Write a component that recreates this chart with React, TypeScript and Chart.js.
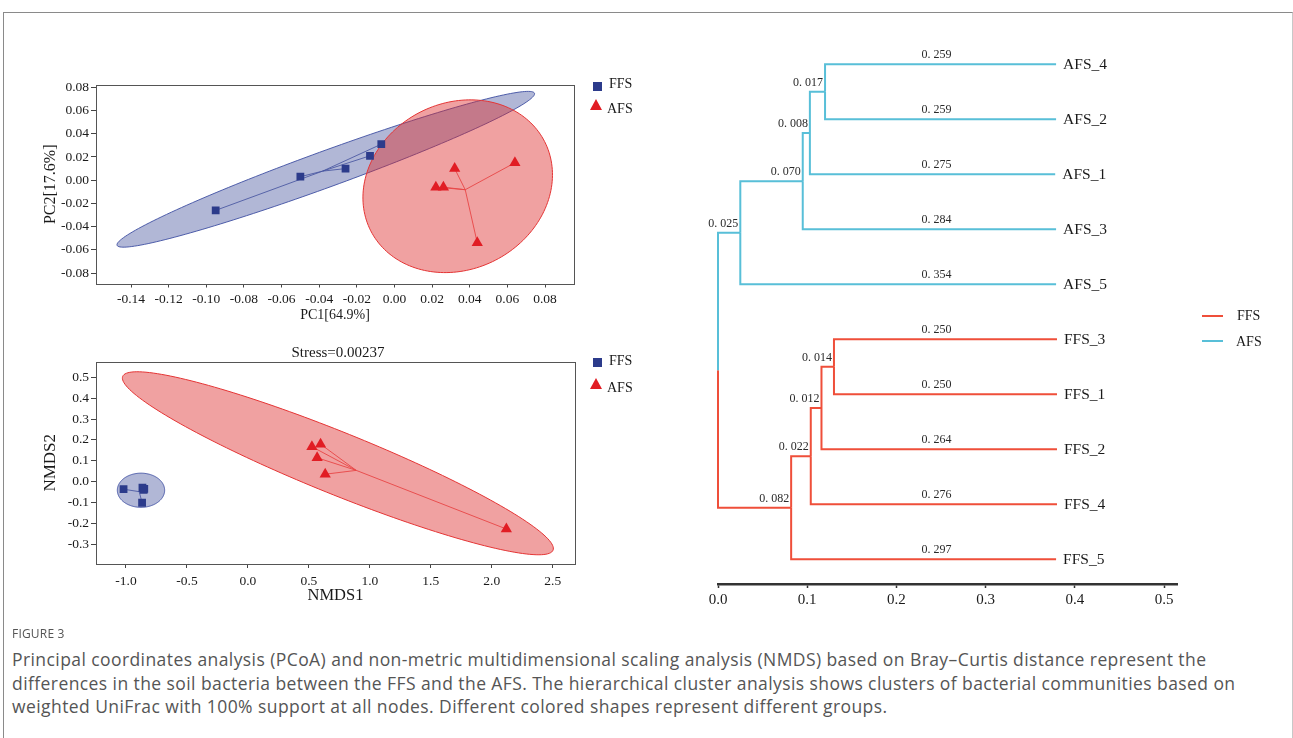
import React, { useEffect, useRef } from 'react';
import { Chart, registerables } from 'chart.js';
Chart.register(...registerables);

const SERIF = '"Liberation Serif", "Times New Roman", serif';
const SANS = '"Open Sans", "Noto Sans", sans-serif';

// ---------------- PCoA ----------------
const PCOA_X_TICKS = [-0.14, -0.12, -0.1, -0.08, -0.06, -0.04, -0.02, 0.0, 0.02, 0.04, 0.06, 0.08];
const PCOA_Y_TICKS = [-0.08, -0.06, -0.04, -0.02, 0.0, 0.02, 0.04, 0.06, 0.08];
const PCOA_X_LIMITS = [-0.1586, 0.0954];
const PCOA_Y_LIMITS = [-0.089, 0.082];
const PCOA_FFS_X = [-0.095, -0.05, -0.026, -0.013, -0.007];
const PCOA_FFS_Y = [-0.026, 0.003, 0.01, 0.021, 0.031];
const PCOA_AFS_X = [0.022, 0.026, 0.032, 0.064, 0.044];
const PCOA_AFS_Y = [-0.006, -0.006, 0.01, 0.015, -0.054];
// confidence ellipses: centre (x, y), semi-axis 1 (dx, dy), semi-axis 2 (dx, dy), data units
const PCOA_FFS_ELLIPSE = [-0.0365, 0.0094, 0.1109, 0.0655, 0.0033, -0.0146];
const PCOA_AFS_ELLIPSE = [0.0336, -0.0052, 0.0502, 0.004, 0.004, 0.0743];

// ---------------- NMDS ----------------
const NMDS_X_TICKS = [-1.0, -0.5, 0.0, 0.5, 1.0, 1.5, 2.0, 2.5];
const NMDS_Y_TICKS = [-0.3, -0.2, -0.1, 0.0, 0.1, 0.2, 0.3, 0.4, 0.5];
const NMDS_X_LIMITS = [-1.246, 2.683];
const NMDS_Y_LIMITS = [-0.396, 0.576];
const NMDS_FFS_X = [-1.02, -0.865, -0.855, -0.85, -0.868];
const NMDS_FFS_Y = [-0.037, -0.03, -0.04, -0.035, -0.102];
const NMDS_AFS_X = [0.525, 0.596, 0.568, 0.634, 2.12];
const NMDS_AFS_Y = [0.167, 0.179, 0.114, 0.035, -0.228];
const NMDS_FFS_ELLIPSE = [-0.877, -0.042, 0.194, 0, 0, 0.082];
const NMDS_AFS_ELLIPSE = [0.738, 0.0875, 1.765, -0.417, 0.095, 0.138];
const NMDS_STRESS = '0.00237';

// ---------------- Cluster tree ----------------
const TREE_NODES = ['root', 'nA', 'nB', 'nC', 'nD', 'nF', 'nG', 'nH', 'nI',
  'AFS_4', 'AFS_2', 'AFS_1', 'AFS_3', 'AFS_5', 'FFS_3', 'FFS_1', 'FFS_2', 'FFS_4', 'FFS_5'];
const TREE_PARENTS = [null, 'root', 'nA', 'nB', 'nC', 'root', 'nF', 'nG', 'nH',
  'nD', 'nD', 'nC', 'nB', 'nA', 'nI', 'nI', 'nH', 'nG', 'nF'];
const TREE_BRANCHES = [0, 0.025, 0.07, 0.008, 0.017, 0.082, 0.022, 0.012, 0.014,
  0.259, 0.259, 0.275, 0.284, 0.354, 0.25, 0.25, 0.264, 0.276, 0.297];
const LEAF_ORDER = ['AFS_4', 'AFS_2', 'AFS_1', 'AFS_3', 'AFS_5', 'FFS_3', 'FFS_1', 'FFS_2', 'FFS_4', 'FFS_5'];
const TREE_X_TICKS = [0, 0.1, 0.2, 0.3, 0.4, 0.5];
const TREE_X_LIMITS = [0, 0.515];
const TREE_Y_LIMITS = [-0.5, 9.449];
const LEAF_LABEL_X = 0.245;

const GROUPS = ['FFS', 'AFS'];

// colours
const C_FFS_PT = '#2c3b8b';
const C_AFS_PT = '#e11d24';
const C_FFS_FILL = 'rgba(40,55,140,0.36)';
const C_FFS_EDGE = 'rgba(70,85,165,0.95)';
const C_AFS_FILL = 'rgba(220,40,40,0.44)';
const C_AFS_EDGE = 'rgba(228,52,52,1)';
const C_FFS_LINE = 'rgba(70,85,160,0.85)';
const C_AFS_LINE = 'rgba(232,70,70,0.9)';
const C_TREE_FFS = '#ef4f3a';
const C_TREE_AFS = '#58bfd8';

const ellipsePlugin = {
  id: 'ellipses',
  beforeDatasetsDraw(chart: any, _a: any, opts: any) {
    const { ctx, scales, chartArea } = chart;
    const xs = scales.x, ys = scales.y;
    ctx.save();
    ctx.beginPath();
    ctx.rect(chartArea.left, chartArea.top, chartArea.right - chartArea.left, chartArea.bottom - chartArea.top);
    ctx.clip();
    for (const e of opts.items || []) {
      const [cx, cy, ax, ay, bx, by] = e.p;
      const c0x = xs.getPixelForValue(cx), c0y = ys.getPixelForValue(cy);
      const a1 = xs.getPixelForValue(cx + ax) - c0x, a2 = ys.getPixelForValue(cy + ay) - c0y;
      const b1 = xs.getPixelForValue(cx + bx) - c0x, b2 = ys.getPixelForValue(cy + by) - c0y;
      ctx.beginPath();
      const N = 180;
      for (let i = 0; i <= N; i++) {
        const t = (i / N) * Math.PI * 2;
        const px = c0x + a1 * Math.cos(t) + b1 * Math.sin(t);
        const py = c0y + a2 * Math.cos(t) + b2 * Math.sin(t);
        if (i === 0) ctx.moveTo(px, py); else ctx.lineTo(px, py);
      }
      ctx.closePath();
      ctx.fillStyle = e.fill;
      ctx.fill();
      ctx.lineWidth = 1;
      ctx.strokeStyle = e.stroke;
      ctx.stroke();
    }
    ctx.restore();
  },
};

const framePlugin = {
  id: 'frame',
  afterDraw(chart: any, _a: any, opts: any) {
    if (!opts || !opts.color) return;
    const { ctx, chartArea } = chart;
    ctx.save();
    ctx.strokeStyle = opts.color;
    ctx.lineWidth = 1;
    const l = Math.round(chartArea.left) + 0.5, t = Math.round(chartArea.top) + 0.5;
    const r = Math.round(chartArea.right) + 0.5, b = Math.round(chartArea.bottom) + 0.5;
    ctx.strokeRect(l, t, r - l, b - t);
    ctx.restore();
  },
};

const mean = (a: number[]) => a.reduce((s, v) => s + v, 0) / a.length;

function scatterConfig(c: any) {
  const Y_AXIS_W = 60, X_AXIS_H = c.xAxisH;
  const { area, cw, ch } = c;
  const ffs = c.ffsX.map((x: number, i: number) => ({ x, y: c.ffsY[i] }));
  const afs = c.afsX.map((x: number, i: number) => ({ x, y: c.afsY[i] }));
  const ffsC = { x: mean(c.ffsX), y: mean(c.ffsY) };
  const afsC = { x: mean(c.afsX), y: mean(c.afsY) };
  const spider = (pts: any[], cen: any, color: string) =>
    pts.map((p) => ({
      data: [cen, p], showLine: true, borderColor: color, borderWidth: 1,
      pointRadius: 0, fill: false, tension: 0,
    }));
  const tickFont = { family: SERIF, size: 13.5 };
  return {
    type: 'scatter',
    data: {
      datasets: [
        { label: GROUPS[0], data: ffs, pointStyle: 'rect', pointRadius: 5.5, pointBackgroundColor: C_FFS_PT, pointBorderWidth: 0 },
        { label: GROUPS[1], data: afs, pointStyle: 'triangle', pointRadius: 6.5, pointBackgroundColor: C_AFS_PT, pointBorderWidth: 0 },
        ...spider(ffs, ffsC, C_FFS_LINE),
        ...spider(afs, afsC, C_AFS_LINE),
      ],
    },
    options: {
      responsive: false, animation: false, devicePixelRatio: 1, events: [],
      layout: { padding: { left: area.left - Y_AXIS_W, top: area.top, right: cw - area.right, bottom: ch - area.bottom - X_AXIS_H } },
      plugins: {
        legend: { display: false }, tooltip: { enabled: false },
        ellipses: { items: [
          { p: c.ffsEll, fill: C_FFS_FILL, stroke: C_FFS_EDGE },
          { p: c.afsEll, fill: C_AFS_FILL, stroke: C_AFS_EDGE },
        ] },
        frame: { color: '#555' },
      },
      scales: {
        x: {
          type: 'linear', position: 'bottom', min: c.xLim[0], max: c.xLim[1],
          afterBuildTicks: (a: any) => { a.ticks = c.xTicks.map((v: number) => ({ value: v })); },
          afterFit: (a: any) => { a.height = X_AXIS_H; },
          ticks: { callback: (v: any) => Number(v).toFixed(c.xDec), font: tickFont, color: '#1a1a1a', padding: c.xPad, maxRotation: 0, autoSkip: false },
          grid: { drawOnChartArea: false, drawTicks: true, tickLength: 4, tickColor: '#444' },
          border: { display: false },
          title: { display: true, text: c.xTitle, font: { family: SERIF, size: c.xTitleSize }, color: '#1a1a1a', padding: { top: 0, bottom: c.xTitlePad } },
        },
        y: {
          type: 'linear', position: 'left', min: c.yLim[0], max: c.yLim[1],
          afterBuildTicks: (a: any) => { a.ticks = c.yTicks.map((v: number) => ({ value: v })); },
          afterFit: (a: any) => { a.width = Y_AXIS_W; },
          ticks: { callback: (v: any) => Number(v).toFixed(c.yDec), font: tickFont, color: '#1a1a1a', padding: 2, autoSkip: false },
          grid: { drawOnChartArea: false, drawTicks: true, tickLength: 5, tickColor: '#444' },
          border: { display: false },
          title: { display: true, text: c.yTitle, font: { family: SERIF, size: c.yTitleSize }, color: '#1a1a1a', padding: { top: c.yTitlePad, bottom: 0 } },
        },
      },
    },
    plugins: [ellipsePlugin, framePlugin],
  };
}

function buildTree() {
  const idx = new Map(TREE_NODES.map((n, i) => [n, i] as [string, number]));
  const parent = TREE_PARENTS.map((p) => (p === null ? -1 : (idx.get(p) as number)));
  const children: number[][] = TREE_NODES.map(() => []);
  parent.forEach((p, i) => { if (p >= 0) children[p].push(i); });
  const root = parent.indexOf(-1);
  const xs: number[] = [], ys: number[] = [], grp: string[] = [];
  const setX = (i: number, base: number) => { xs[i] = base + TREE_BRANCHES[i]; children[i].forEach((k) => setX(k, xs[i])); };
  const setY = (i: number) => {
    if (!children[i].length) {
      ys[i] = LEAF_ORDER.indexOf(TREE_NODES[i]);
      grp[i] = TREE_NODES[i].split('_')[0];
    } else {
      children[i].forEach(setY);
      const cy = children[i].map((k) => ys[k]);
      ys[i] = (Math.min(...cy) + Math.max(...cy)) / 2;
      grp[i] = grp[children[i][0]];
    }
  };
  setX(root, 0);
  setY(root);
  return { parent, children, xs, ys, grp, root };
}

function treeConfig() {
  const T = buildTree();
  const CW = 600, CH = 600, AREA = { left: 28, top: 16.8, right: 487.4, bottom: 564 };
  const X_AXIS_H = 30;
  const datasets: any[] = [];
  TREE_NODES.forEach((_n, i) => {
    const p = T.parent[i];
    if (p < 0) return;
    datasets.push({
      data: [{ x: T.xs[p], y: T.ys[p] }, { x: T.xs[p], y: T.ys[i] }, { x: T.xs[i], y: T.ys[i] }],
      showLine: true, borderColor: T.grp[i] === 'FFS' ? C_TREE_FFS : C_TREE_AFS, borderWidth: 2,
      pointRadius: 0, fill: false, tension: 0, clip: false, borderJoinStyle: 'miter', borderCapStyle: 'butt',
    });
  });
  const labelPlugin = {
    id: 'treeLabels',
    afterDatasetsDraw(chart: any) {
      const { ctx, scales: { x, y } } = chart;
      ctx.save();
      TREE_NODES.forEach((name, i) => {
        const p = T.parent[i];
        if (p < 0) return;
        const py = y.getPixelForValue(T.ys[i]);
        const txt = TREE_BRANCHES[i].toFixed(3).replace('.', '. ');
        ctx.font = `12px ${SERIF}`;
        ctx.fillStyle = '#2a2a2a';
        ctx.textBaseline = 'middle';
        if (!T.children[i].length) {
          ctx.textAlign = 'center';
          ctx.fillText(txt, x.getPixelForValue(LEAF_LABEL_X), py - 9);
          ctx.font = `15.5px ${SERIF}`;
          ctx.fillStyle = '#1a1a1a';
          ctx.textAlign = 'left';
          ctx.fillText(name, x.getPixelForValue(T.xs[i]) + 7, py + 1);
        } else {
          ctx.textAlign = 'right';
          ctx.fillText(txt, x.getPixelForValue(T.xs[i]) - 2, py - 9);
        }
      });
      ctx.restore();
    },
  };
  return {
    type: 'scatter',
    data: { datasets },
    options: {
      responsive: false, animation: false, devicePixelRatio: 1, events: [],
      layout: { padding: { left: AREA.left, top: AREA.top, right: CW - AREA.right, bottom: CH - AREA.bottom - X_AXIS_H } },
      plugins: { legend: { display: false }, tooltip: { enabled: false } },
      scales: {
        x: {
          type: 'linear', position: 'bottom', min: TREE_X_LIMITS[0], max: TREE_X_LIMITS[1],
          afterBuildTicks: (a: any) => { a.ticks = TREE_X_TICKS.map((v) => ({ value: v })); },
          afterFit: (a: any) => { a.height = X_AXIS_H; },
          ticks: { callback: (v: any) => Number(v).toFixed(1), font: { family: SERIF, size: 15 }, color: '#1a1a1a', padding: 3, maxRotation: 0, autoSkip: false },
          grid: { drawOnChartArea: false, drawTicks: true, tickLength: 4, tickColor: '#333', tickWidth: 1.5 },
          border: { display: true, color: '#333', width: 2.5 },
        },
        y: { type: 'linear', display: false, reverse: true, min: TREE_Y_LIMITS[0], max: TREE_Y_LIMITS[1] },
      },
    },
    plugins: [labelPlugin],
  };
}

function ChartCanvas({ left, top, width, height, make }: any) {
  const ref = useRef<HTMLCanvasElement>(null);
  useEffect(() => {
    const chart = new Chart(ref.current as HTMLCanvasElement, make());
    return () => chart.destroy();
  }, []);
  return <canvas ref={ref} width={width} height={height} style={{ position: 'absolute', left, top, width, height }} />;
}

function Txt({ x, y, align = 'left', style, children }: any) {
  const tx = align === 'center' ? '-50%' : align === 'right' ? '-100%' : '0';
  return (
    <div style={{ position: 'absolute', left: x, top: y, transform: `translate(${tx}, -50%)`, whiteSpace: 'nowrap', lineHeight: 1, ...style }}>
      {children}
    </div>
  );
}

const Square = ({ x, y, color }: any) => (
  <div style={{ position: 'absolute', left: x - 4.5, top: y - 4.5, width: 9, height: 9, background: color }} />
);
const Triangle = ({ x, y, color }: any) => (
  <div style={{ position: 'absolute', left: x - 6.5, top: y - 5.5, width: 0, height: 0, borderLeft: '6.5px solid transparent', borderRight: '6.5px solid transparent', borderBottom: `11px solid ${color}` }} />
);
const LegLine = ({ x, y, color }: any) => (
  <div style={{ position: 'absolute', left: x, top: y - 1, width: 21, height: 2, background: color }} />
);

const CAPTION = [
  'Principal coordinates analysis (PCoA) and non-metric multidimensional scaling analysis (NMDS) based on Bray\u2013Curtis distance represent the',
  'differences in the soil bacteria between the FFS and the AFS. The hierarchical cluster analysis shows clusters of bacterial communities based on',
  'weighted UniFrac with 100% support at all nodes. Different colored shapes represent different groups.',
];

export default function App() {
  const legFont = { fontFamily: SERIF, fontSize: 14, color: '#1a1a1a' };
  return (
    <div style={{ position: 'fixed', left: 0, top: 0, width: 1293, height: 738, background: '#fff', overflow: 'hidden' }}>
      <div style={{ position: 'absolute', left: 3, top: 12, width: 1288, height: 760, borderTop: '1px solid #8a8a8a', borderLeft: '1px solid #8a8a8a', borderRight: '1px solid #c8c8c8' }} />
      <ChartCanvas left={0} top={0} width={660} height={330} make={() => scatterConfig({
        area: { left: 96, top: 85, right: 574, bottom: 283.5 }, cw: 660, ch: 330, xAxisH: 43,
        xTicks: PCOA_X_TICKS, yTicks: PCOA_Y_TICKS, xLim: PCOA_X_LIMITS, yLim: PCOA_Y_LIMITS, xDec: 2, yDec: 2, xPad: 4,
        ffsX: PCOA_FFS_X, ffsY: PCOA_FFS_Y, afsX: PCOA_AFS_X, afsY: PCOA_AFS_Y,
        ffsEll: PCOA_FFS_ELLIPSE, afsEll: PCOA_AFS_ELLIPSE,
        xTitle: 'PC1[64.9%]', xTitleSize: 14, xTitlePad: 3,
        yTitle: 'PC2[17.6%]', yTitleSize: 16, yTitlePad: 5.4,
      })} />
      <ChartCanvas left={0} top={330} width={660} height={300} make={() => scatterConfig({
        area: { left: 96, top: 31.5, right: 575, bottom: 234 }, cw: 660, ch: 300, xAxisH: 45,
        xTicks: NMDS_X_TICKS, yTicks: NMDS_Y_TICKS, xLim: NMDS_X_LIMITS, yLim: NMDS_Y_LIMITS, xDec: 1, yDec: 1, xPad: 5,
        ffsX: NMDS_FFS_X, ffsY: NMDS_FFS_Y, afsX: NMDS_AFS_X, afsY: NMDS_AFS_Y,
        ffsEll: NMDS_FFS_ELLIPSE, afsEll: NMDS_AFS_ELLIPSE,
        xTitle: 'NMDS1', xTitleSize: 16.5, xTitlePad: 3,
        yTitle: 'NMDS2', yTitleSize: 17, yTitlePad: 4.8,
      })} />
      <ChartCanvas left={690} top={20} width={600} height={600} make={treeConfig} />

      {/* PCoA legend */}
      <Square x={597} y={86} color={C_FFS_PT} />
      <Txt x={609} y={84} style={legFont}>{GROUPS[0]}</Txt>
      <Triangle x={596} y={104} color={C_AFS_PT} />
      <Txt x={607} y={109} style={legFont}>{GROUPS[1]}</Txt>

      {/* NMDS title + legend */}
      <Txt x={338} y={351.5} align="center" style={{ fontFamily: SERIF, fontSize: 15, color: '#1a1a1a' }}>{`Stress=${NMDS_STRESS}`}</Txt>
      <Square x={597} y={362} color={C_FFS_PT} />
      <Txt x={609} y={361} style={legFont}>{GROUPS[0]}</Txt>
      <Triangle x={596} y={383} color={C_AFS_PT} />
      <Txt x={607} y={388} style={legFont}>{GROUPS[1]}</Txt>

      {/* Tree legend */}
      <LegLine x={1202} y={316} color={C_TREE_FFS} />
      <Txt x={1237} y={316} style={legFont}>{GROUPS[0]}</Txt>
      <LegLine x={1202} y={341} color={C_TREE_AFS} />
      <Txt x={1236} y={342} style={legFont}>{GROUPS[1]}</Txt>

      {/* Caption */}
      <Txt x={12} y={634} style={{ fontFamily: SANS, fontSize: 12, color: '#555', letterSpacing: 0.2 }}>FIGURE 3</Txt>
      {CAPTION.map((line, i) => (
        <Txt key={i} x={12} y={660 + i * 23.5} style={{ fontFamily: SANS, fontSize: 17.5, color: '#555', letterSpacing: 0.42 }}>{line}</Txt>
      ))}
    </div>
  );
}
